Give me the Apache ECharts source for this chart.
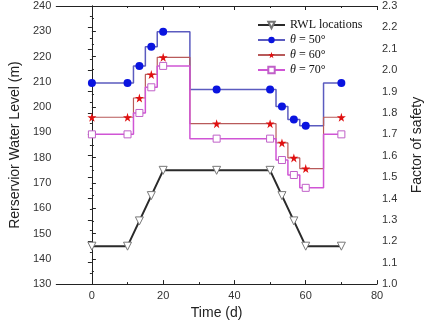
<!DOCTYPE html>
<html>
<head>
<meta charset="utf-8">
<script src="https://cdn.jsdelivr.net/npm/echarts@6/dist/echarts.min.js"></script>
<style>
  html, body { margin: 0; padding: 0; background: #fff; }
  #chart { width: 432px; height: 325px; }
</style>
</head>
<body>
<div id="chart"></div>
<script>
// Time (days) of each stage
const rwlTime = [0, 10, 13.33, 16.67, 20, 35, 50, 53.33, 56.67, 60, 70];
// Reservoir water level (m)
const rwlLevel = [145, 145, 155, 165, 175, 175, 175, 165, 155, 145, 145];
// Factor of safety for each slope angle
const fos50 = [1.94, 1.94, 2.02, 2.11, 2.18, 1.91, 1.91, 1.83, 1.77, 1.74, 1.94];
const fos60 = [1.78, 1.78, 1.87, 1.98, 2.06, 1.75, 1.75, 1.66, 1.59, 1.54, 1.78];
const fos70 = [1.70, 1.70, 1.80, 1.92, 2.02, 1.68, 1.68, 1.58, 1.51, 1.45, 1.70];
const seriesNames = ['RWL locations', 'θ = 50°', 'θ = 60°', 'θ = 70°'];
const xMajor = [0, 20, 40, 60, 80];
const xMinor = [10, 30, 50, 70];

const pairs = (xs, ys) => xs.map((x, i) => [x, ys[i]]);
const star = 'path://M50,0 L61,35 L98,35 L68,57 L79,91 L50,70 L21,91 L32,57 L2,35 L39,35 Z';
const axisCol = '#222';
const labelFont = { fontFamily: 'Liberation Sans', fontSize: 11, color: '#333' };

const chart = echarts.init(document.getElementById('chart'), null, { renderer: 'canvas' });

function xAxisDef(position, ticks, len, showLabel, showLine) {
  return {
    type: 'value', min: -10, max: 80, position: position,
    axisLine: { show: showLine, onZero: false, lineStyle: { color: axisCol, width: 1 } },
    axisTick: { show: true, inside: true, length: len, customValues: ticks, lineStyle: { color: axisCol } },
    axisLabel: { show: showLabel, customValues: ticks, margin: 6, ...labelFont },
    splitLine: { show: false }
  };
}

chart.setOption({
  animation: false,
  grid: { left: 45, right: 46, top: 6, bottom: 40 },
  legend: {
    orient: 'vertical', left: 252, top: 13, itemGap: 1,
    itemWidth: 27, itemHeight: 8,
    data: seriesNames,
    formatter: n => n.startsWith('θ') ? '{i|θ}' + n.slice(1) : n,
    textStyle: {
      fontFamily: 'Liberation Serif', fontSize: 12, lineHeight: 14, color: '#111',
      rich: { i: { fontFamily: 'Liberation Serif', fontStyle: 'italic', fontSize: 12, lineHeight: 14, color: '#111' } }
    }
  },
  xAxis: [
    Object.assign(xAxisDef('bottom', xMajor, 4, true, true), {
      name: 'Time (d)', nameLocation: 'middle', nameGap: 13,
      nameTextStyle: { fontFamily: 'Liberation Sans', fontSize: 14, color: '#222' }
    }),
    xAxisDef('bottom', xMinor, 2, false, false),
    xAxisDef('top', xMajor, 4, false, true),
    xAxisDef('top', xMinor, 2, false, false)
  ],
  yAxis: [
    {
      type: 'value', min: 130, max: 240, interval: 10, position: 'left',
      name: 'Rerservior Water Level (m)', nameLocation: 'middle', nameGap: 32,
      nameTextStyle: { fontFamily: 'Liberation Sans', fontSize: 14, color: '#222' },
      axisLine: { show: true, lineStyle: { color: axisCol } },
      axisTick: { show: true, inside: true, length: 4, lineStyle: { color: axisCol } },
      minorTick: { show: true, splitNumber: 2, length: 2, lineStyle: { color: axisCol } },
      axisLabel: { margin: 5, ...labelFont },
      splitLine: { show: false }
    },
    {
      type: 'value', min: 1.0, max: 2.3, interval: 0.1, position: 'right',
      name: 'Factor of safety', nameLocation: 'middle', nameGap: 33,
      nameTextStyle: { fontFamily: 'Liberation Sans', fontSize: 14, color: '#222' },
      axisLine: { show: true, lineStyle: { color: axisCol } },
      axisTick: { show: true, inside: true, length: 4, lineStyle: { color: axisCol } },
      minorTick: { show: true, splitNumber: 2, length: 2, lineStyle: { color: axisCol } },
      axisLabel: { margin: 5, formatter: v => v.toFixed(1), ...labelFont },
      splitLine: { show: false }
    }
  ],
  series: [
    {
      name: seriesNames[0], type: 'line', xAxisIndex: 0, yAxisIndex: 0,
      data: pairs(rwlTime, rwlLevel),
      symbol: 'triangle', symbolRotate: 180, symbolSize: 8, showAllSymbol: true,
      lineStyle: { color: '#2a2a2a', width: 2 },
      itemStyle: { color: '#fff', borderColor: '#777', borderWidth: 1 }
    },
    {
      name: seriesNames[1], type: 'line', xAxisIndex: 0, yAxisIndex: 1, step: 'middle',
      data: pairs(rwlTime, fos50),
      symbol: 'circle', symbolSize: 8, showAllSymbol: true,
      lineStyle: { color: '#5b5bbf', width: 1.5 },
      itemStyle: { color: '#0a14e0', borderColor: '#0a14e0', borderWidth: 0 }
    },
    {
      name: seriesNames[2], type: 'line', xAxisIndex: 0, yAxisIndex: 1, step: 'middle',
      data: pairs(rwlTime, fos60),
      symbol: star, symbolSize: 9, showAllSymbol: true,
      lineStyle: { color: '#b85a5a', width: 1.2 },
      itemStyle: { color: '#e01010', borderWidth: 0 }
    },
    {
      name: seriesNames[3], type: 'line', xAxisIndex: 0, yAxisIndex: 1, step: 'middle',
      data: pairs(rwlTime, fos70),
      symbol: 'rect', symbolSize: 7, showAllSymbol: true,
      lineStyle: { color: '#d055d5', width: 1.5 },
      itemStyle: { color: '#fff', borderColor: '#c060c8', borderWidth: 1 }
    }
  ]
});
</script>
</body>
</html>
